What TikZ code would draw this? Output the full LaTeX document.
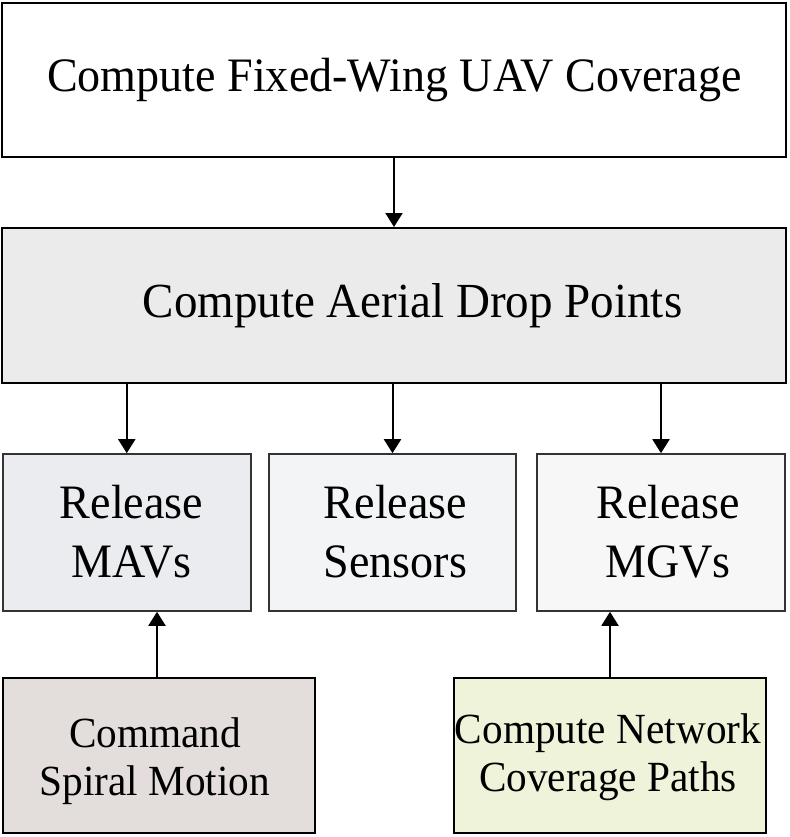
\documentclass[tikz,border=0pt]{standalone}
\usepackage{fontspec}
\setmainfont[FakeStretch=0.96]{Liberation Serif}
\usetikzlibrary{arrows.meta}
\definecolor{dropfill}{HTML}{EBEBEB}
\definecolor{mavfill}{HTML}{EBECF0}
\definecolor{sensfill}{HTML}{F3F4F5}
\definecolor{mgvfill}{HTML}{F7F7F7}
\definecolor{cmdfill}{HTML}{E3DEDC}
\definecolor{netfill}{HTML}{EEF3D9}
\definecolor{rowborder}{HTML}{333333}
\tikzset{
  bigbox/.style={draw=black, line width=2pt, rectangle, inner sep=0pt},
  rowbox/.style={draw=rowborder, line width=1.6pt, rectangle, inner sep=0pt, minimum width=248pt, minimum height=157pt},
  lowbox/.style={draw=black, line width=1.6pt, rectangle, inner sep=0pt, minimum width=312pt, minimum height=155pt},
  bigtxt/.style={inner sep=0pt, font=\fontsize{48pt}{59pt}\selectfont, align=center},
  lowtxt/.style={inner sep=0pt, align=center, font=\fontsize{43pt}{48pt}\selectfont},
  conn/.style={line width=2pt, -{Triangle[length=14pt,width=17pt]}}
}
\begin{document}
\begin{tikzpicture}[x=1pt,y=-1pt]
\useasboundingbox (0,0) rectangle (789,837);
% boxes
\node[bigbox, fill=white, minimum width=784pt, minimum height=154pt] (uav) at (394,80) {};
\node[bigbox, fill=dropfill, minimum width=784pt, minimum height=155pt] (drop) at (394,305.5) {};
\node[rowbox, fill=mavfill] (mav) at (126.75,532.5) {};
\node[rowbox, fill=sensfill, minimum width=247pt] (sens) at (392.5,532.5) {};
\node[rowbox, fill=mgvfill] (mgv) at (661,532.5) {};
\node[lowbox, fill=cmdfill, minimum width=311.5pt] (cmd) at (159,755.5) {};
\node[lowbox, fill=netfill] (net) at (610,755.5) {};
% texts
\node[bigtxt] (tuav) at (394.5,80.5) {Compute Fixed-Wing UAV Coverage};
\node[bigtxt, font=\fontsize{49pt}{59pt}\selectfont] (tdrop) at (412.5,305.6) {Compute Aerial Drop Points};
\node[bigtxt] (tmav) at (131.5,532) {Release\\MAVs};
\node[bigtxt] (tsens) at (395.5,532) {Release\\Sensors};
\node[bigtxt] (tmgv) at (668,532) {Release\\MGVs};
\node[lowtxt] (tcmd) at (155,761) {Command\\Spiral Motion};
\node[lowtxt] (tnet) at (608,757.5) {Compute Network\\Coverage Paths};
% connectors
\draw[conn] (uav.south) -- (drop.north);
\draw[conn] (mav.north |- drop.south) -- (mav.north);
\draw[conn] (sens.north |- drop.south) -- (sens.north);
\draw[conn] (mgv.north |- drop.south) -- (mgv.north);
\draw[conn] ([xshift=-2pt]cmd.north) -- ([xshift=-2pt]cmd.north |- mav.south);
\draw[conn] (net.north) -- (net.north |- mgv.south);
\end{tikzpicture}
\end{document}
